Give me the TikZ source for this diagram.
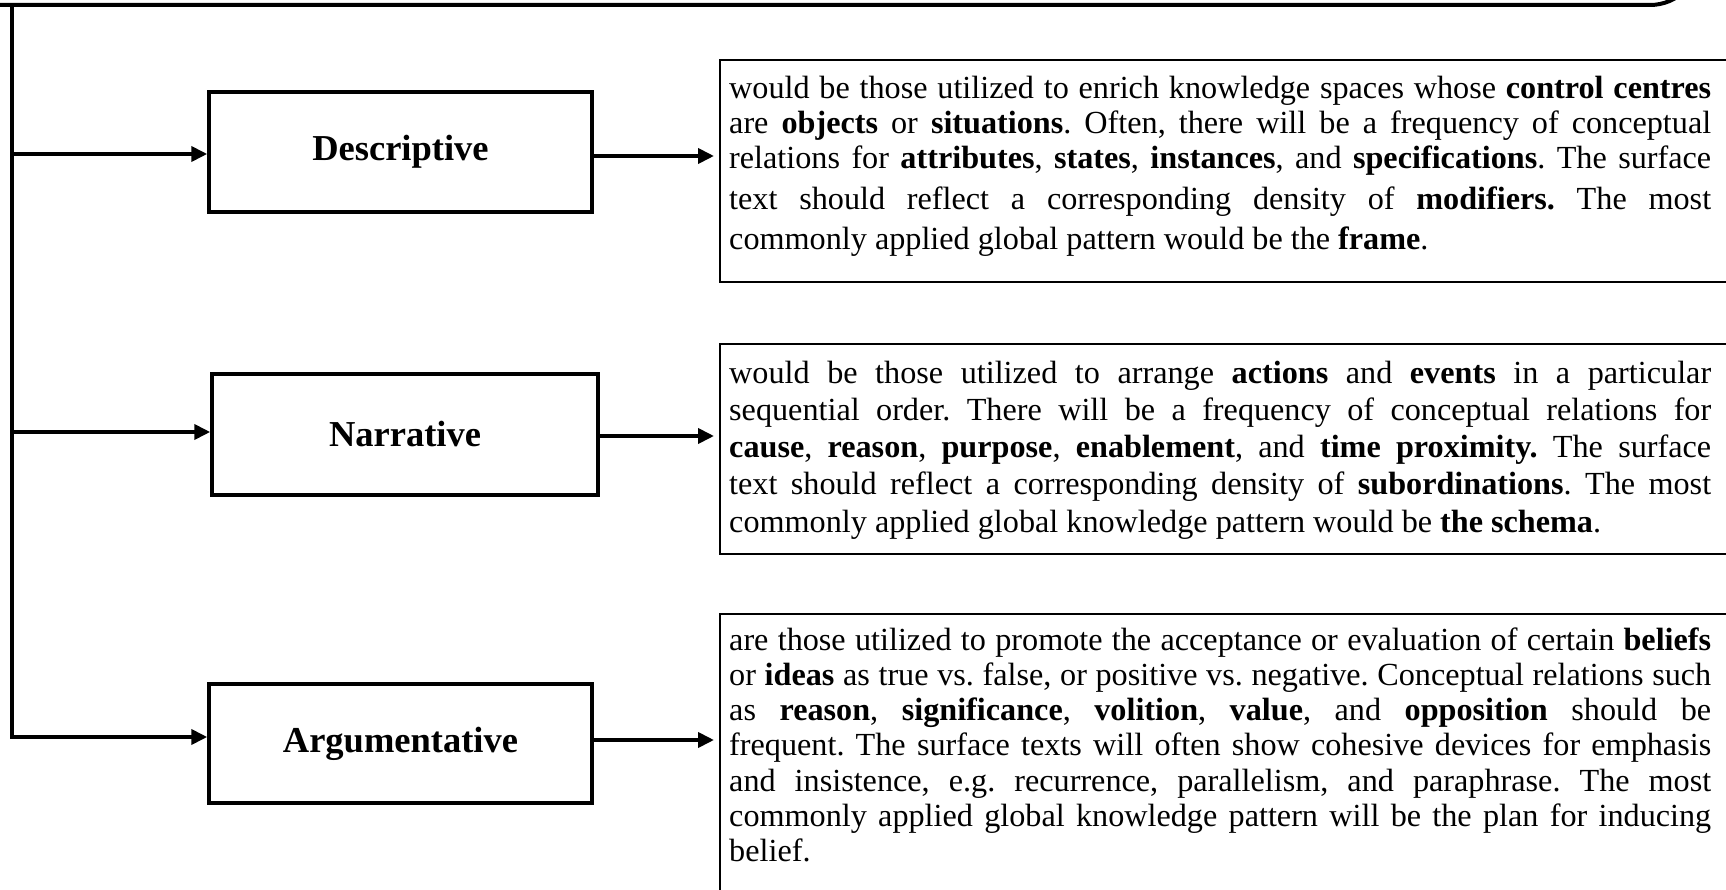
\documentclass[tikz,border=0pt]{standalone}
\usepackage{fontspec}
\setmainfont{Liberation Serif}
\usetikzlibrary{arrows.meta}
\newlength{\tlw}\setlength{\tlw}{982pt}
\newcommand{\jl}[1]{\makebox[\tlw][s]{#1}\par}
\newcommand{\tpara}[2]{\parbox[t]{\tlw}{\fontsize{32.2}{#1}\selectfont\frenchspacing\lineskiplimit=-100pt\parindent=0pt #2}}
\begin{document}
\begin{tikzpicture}[x=1pt,y=-1pt,
  lbl/.style={draw,line width=3.5pt,inner sep=0pt,font=\fontsize{36.5}{40}\selectfont\bfseries},
  tbox/.style={draw,line width=2.2pt,anchor=north west,inner sep=0pt,minimum width=1040pt},
  txt/.style={anchor=base west,inner sep=0pt},
  arr/.style={line width=3.8pt,-{Triangle[length=16pt,width=15pt]}},
  bar/.style={line width=4pt}]
\useasboundingbox (0,0) rectangle (1726,890);
\clip (0,0) rectangle (1726,890);
% category boxes
\node[lbl,minimum width=383pt,minimum height=120pt] (desc) at (400.5,152) {Descriptive};
\node[lbl,minimum width=386pt,minimum height=121pt] (narr) at (405,434.5) {Narrative};
\node[lbl,minimum width=383pt,minimum height=119pt] (argu) at (400.5,743.5) {Argumentative};
% text boxes
\node[tbox,minimum height=222pt] (tb1) at (719,59) {};
\node[tbox,minimum height=210pt] (tb2) at (719,343) {};
\node[tbox,minimum height=330pt] (tb3) at (719,613) {};
% texts
\node[txt] (tx1) at (729,99) {\tpara{35pt}{%
\jl{would be those utilized to enrich knowledge spaces whose \textbf{control centres}}
\jl{are \textbf{objects} or \textbf{situations}. Often, there will be a frequency of conceptual}
\jl{relations for \textbf{attributes}, \textbf{states}, \textbf{instances}, and \textbf{specifications}. The surface}
\vspace{6pt}
\jl{text should reflect a corresponding density of \textbf{modifiers.} The most}
\vspace{5pt}
commonly applied global pattern would be the \textbf{frame}.}};
\node[txt] (tx2) at (729,383) {\tpara{37.3pt}{%
\jl{would be those utilized to arrange \textbf{actions} and \textbf{events} in a particular}
\jl{sequential order. There will be a frequency of conceptual relations for}
\jl{\textbf{cause}, \textbf{reason}, \textbf{purpose}, \textbf{enablement}, and \textbf{time proximity.} The surface}
\jl{text should reflect a corresponding density of \textbf{subordinations}. The most}
commonly applied global knowledge pattern would be \textbf{the schema}.}};
\node[txt] (tx3) at (729,650) {\tpara{35.3pt}{%
\jl{are those utilized to promote the acceptance or evaluation of certain \textbf{beliefs}}
\jl{or \textbf{ideas} as true vs. false, or positive vs. negative. Conceptual relations such}
\jl{as \textbf{reason}, \textbf{significance}, \textbf{volition}, \textbf{value}, and \textbf{opposition} should be}
\jl{frequent. The surface texts will often show cohesive devices for emphasis}
\jl{and insistence, e.g. recurrence, parallelism, and paraphrase. The most}
\jl{commonly applied global knowledge pattern will be the plan for inducing}
belief.}};
% top bar and trunk
\coordinate (top) at (12,5);
\coordinate (t1) at (12,154);
\coordinate (t2) at (12,432);
\coordinate (t3) at (12,737);
\draw[bar,rounded corners=50pt] (-10,5) -- (1700,5) -- (1700,-100);
\draw[bar] (top) -- ([yshift=-1.9pt]t3);
% arrows from trunk
\draw[arr] (t1) -- (t1 -| desc.west);
\draw[arr] (t2) -- (t2 -| narr.west);
\draw[arr] (t3) -- (t3 -| argu.west);
% arrows to text boxes
\coordinate (r1) at (0,156);
\coordinate (r2) at (0,436);
\coordinate (r3) at (0,740);
\draw[arr,shorten >=5pt] (desc.east |- r1) -- (tb1.west |- r1);
\draw[arr,shorten >=5pt] (narr.east |- r2) -- (tb2.west |- r2);
\draw[arr,shorten >=5pt] (argu.east |- r3) -- (tb3.west |- r3);
\end{tikzpicture}
\end{document}
